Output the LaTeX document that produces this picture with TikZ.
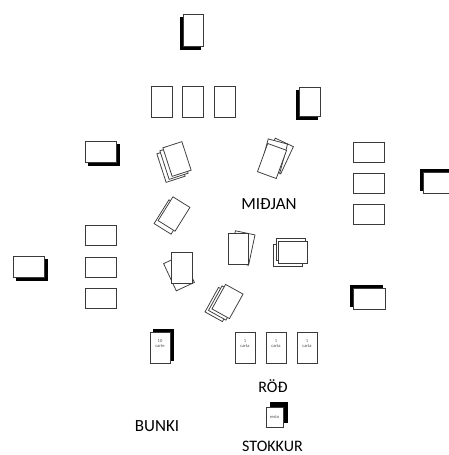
\documentclass[tikz,border=0pt]{standalone}
\usepackage{fontspec}
\setmainfont{Carlito}
\definecolor{edge}{HTML}{3A3A3A}
\tikzset{
  card/.style={draw=edge, fill=white, line width=0.75pt, inner sep=0pt, outer sep=0pt, minimum width=#1},
  vcard/.style={card=20pt, minimum height=30pt},
  hcard/.style={card=31pt, minimum height=21pt},
  shade/.style={fill=black, draw=black},
  lbl/.style={font=\fontsize{16}{18}\selectfont, inner sep=0pt},
  biglbl/.style={font=\fontsize{17}{19}\selectfont, inner sep=0pt},
  tiny/.style={font=\fontsize{4.5}{5}\selectfont, text=black!70, align=center},
}
\begin{document}
\begin{tikzpicture}[x=1pt,y=-1pt]
\useasboundingbox (0,0) rectangle (449,455);
% top pile
\node[vcard, minimum height=32pt, shade] (topb) at (190,33) {};
\node[vcard, minimum height=32pt] (topf) at (193,30) {};
% three top cards
\node[card=21pt, minimum height=31pt] (t1) at (161.5,101.5) {};
\node[card=21pt, minimum height=31pt] (t2) at (192.5,101.5) {};
\node[card=21pt, minimum height=31pt] (t3) at (224.5,101.5) {};
% right-top pile
\node[card=21pt, minimum height=29pt, shade] (rtb) at (306.5,104.5) {};
\node[card=21pt, minimum height=29pt] (rtf) at (309.5,101.5) {};
% left horizontal pile
\node[hcard, shade] (lhb) at (103.5,154.5) {};
\node[hcard] (lhf) at (100.5,151.5) {};
% right column
\node[hcard, minimum height=20pt] (r1) at (368.5,152) {};
\node[hcard, minimum height=20pt] (r2) at (368.5,183) {};
\node[hcard, minimum height=20pt] (r3) at (368.5,214.5) {};
% right far pile
\node[card=30pt, minimum height=21pt, shade] (rfb) at (435,179.5) {};
\node[card=30pt, minimum height=21pt] (rff) at (438,182.5) {};
% left column
\node[hcard, minimum height=20pt] (l1) at (100.5,235) {};
\node[hcard, minimum height=20pt] (l2) at (100.5,267) {};
\node[hcard, minimum height=20pt] (l3) at (100.5,298.5) {};
% far left pile
\node[hcard, shade] (flb) at (31.5,269.5) {};
\node[hcard] (flf) at (28.5,266.5) {};
% right lower pile
\node[card=32pt, minimum height=21pt, shade] (rlb) at (366,295.5) {};
\node[card=32pt, minimum height=21pt] (rlf) at (369,298.5) {};
% centre piles
\node[vcard, rotate=18] (p1c) at (171,165) {};
\node[vcard, rotate=18] (p1b) at (174,162) {};
\node[vcard, rotate=18] (p1a) at (177,159) {};
\node[vcard, rotate=-25] (p2c) at (278,156) {};
\node[vcard, rotate=-15] (p2b) at (274,156) {};
\node[vcard, rotate=-20] (p2a) at (272,161) {};
\node[card=20pt, minimum height=28pt, rotate=-32] (p3b) at (170,217) {};
\node[card=20pt, minimum height=28pt, rotate=-32] (p3a) at (174,214) {};
\node[vcard, rotate=25] (p4b) at (179,273) {};
\node[card=21pt, minimum height=31pt] (p4a) at (181.5,267.5) {};
\node[card=20pt, minimum height=28pt, rotate=-29] (p5c) at (220.5,304.5) {};
\node[card=20pt, minimum height=28pt, rotate=-29] (p5b) at (224,303) {};
\node[card=20pt, minimum height=28pt, rotate=-29] (p5a) at (227.5,301.5) {};
\node[card=20pt, minimum height=31pt, rotate=-12] (p6b) at (242,248) {};
\node[card=20pt, minimum height=31pt] (p6a) at (238,248.5) {};
\node[card=29pt, minimum height=22pt] (p7c) at (287.5,255.5) {};
\node[card=29pt, minimum height=22pt] (p7b) at (290.5,249.5) {};
\node[card=29pt, minimum height=22pt] (p7a) at (292.5,252) {};
% bottom row
\node[card=20pt, minimum height=31pt, shade] (bunkib) at (163,344.5) {};
\node[card=20pt, minimum height=31pt, tiny] (bunkif) at (160,347.5) {10\\carte\\[3pt]};
\node[card=20pt, minimum height=31pt, tiny] (c1) at (245,347.5) {1\\carta\\[3pt]};
\node[card=20pt, minimum height=31pt, tiny] (c2) at (276,347.5) {1\\carta\\[3pt]};
\node[card=20pt, minimum height=31pt, tiny] (c3) at (307,347.5) {1\\carta\\[3pt]};
\node[card=17pt, minimum height=20pt, shade] (stb) at (278.5,412) {};
\node[card=17pt, minimum height=20pt, tiny] (stf) at (274.5,417) {resto};
% labels
\node[biglbl] (midjan) at (269,204) {MIÐJAN};
\node[lbl] (rod) at (273,386) {RÖÐ};
\node[biglbl] (bunki) at (157,426) {BUNKI};
\node[lbl] (stokkur) at (272.5,446) {STOKKUR};
\end{tikzpicture}
\end{document}
